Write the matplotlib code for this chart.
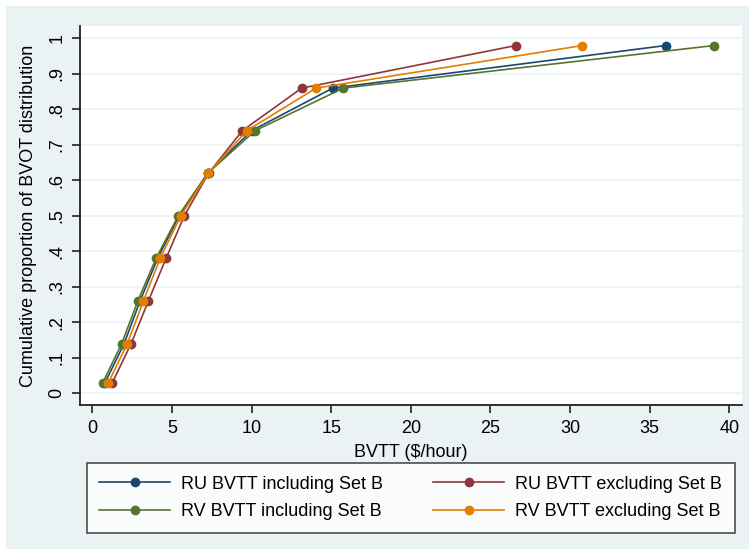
import matplotlib
matplotlib.use("Agg")
import matplotlib.pyplot as plt
from matplotlib.patches import Rectangle

plt.rcParams['font.family'] = ['Liberation Sans', 'DejaVu Sans']

# cumulative proportions (same for all series)
props = [0.03, 0.14, 0.26, 0.38, 0.50, 0.62, 0.74, 0.86, 0.98]

ru_incl = [0.80, 2.00, 3.00, 4.10, 5.45, 7.25, 10.00, 15.10, 36.00]
ru_excl = [1.26, 2.44, 3.52, 4.63, 5.78, 7.30, 9.42, 13.15, 26.60]
rv_incl = [0.66, 1.85, 2.86, 4.00, 5.40, 7.25, 10.22, 15.76, 39.05]
rv_excl = [1.01, 2.20, 3.21, 4.26, 5.56, 7.29, 9.70, 14.05, 30.77]

labels = ["RU BVTT including Set B", "RU BVTT excluding Set B",
          "RV BVTT including Set B", "RV BVTT excluding Set B"]
colors = ["#1A476F", "#90353B", "#55752F", "#E37E00"]

xticks = [0, 5, 10, 15, 20, 25, 30, 35, 40]
yticks = [0, 0.1, 0.2, 0.3, 0.4, 0.5, 0.6, 0.7, 0.8, 0.9, 1.0]
ytick_labels = ["0", ".1", ".2", ".3", ".4", ".5", ".6", ".7", ".8", ".9", "1"]

W, H = 749, 549
fig = plt.figure(figsize=(W / 100, H / 100), dpi=100)
fig.patch.set_facecolor("white")
fig.patches.append(Rectangle((6 / W, 0 / H), 1, (H - 6) / H, transform=fig.transFigure,
                             facecolor="#EAF2F3", edgecolor="none", zorder=-1))

ax = fig.add_axes([80 / W, (H - 405) / H, (742 - 80) / W, (405 - 26) / H])
ax.set_facecolor("white")

series = [ru_incl, ru_excl, rv_incl, rv_excl]
handles = []
for xs, lab, c in zip(series, labels, colors):
    h, = ax.plot(xs, props, color=c, lw=1.2, marker="o", ms=6, mec=c, mfc=c, label=lab)
    handles.append(h)

ax.set_xlim(-0.77, 40.79)
ax.set_ylim(-0.033, 1.035)
ax.set_xticks(xticks)
ax.set_yticks(yticks)
ax.set_yticklabels(ytick_labels, rotation=90, va="center")
ax.grid(axis="y", color="#EAF2F3", lw=1.2)
ax.set_axisbelow(True)

for s in ["top", "right"]:
    ax.spines[s].set_visible(False)
for s in ["left", "bottom"]:
    ax.spines[s].set_color("#222222")
    ax.spines[s].set_linewidth(1.3)

ax.tick_params(axis="both", length=5.5, width=1.2, color="#222222", labelsize=13, pad=5)
ax.set_xlabel("BVTT (\\$/hour)", fontsize=13, labelpad=5)
ax.set_ylabel("Cumulative proportion of BVOT distribution", fontsize=13, labelpad=8)

order = [0, 2, 1, 3]
leg = fig.legend([handles[i] for i in order], [labels[i] for i in order], ncol=2,
                 loc="center left", mode="expand",
                 bbox_to_anchor=(86.7 / W, (H - 498) / H, (735 - 86.7) / W, 0),
                 borderaxespad=0, fontsize=13, frameon=True, fancybox=False, edgecolor="#222222",
                 handlelength=3.9, handletextpad=0.65, borderpad=0.7, labelspacing=0.6,
                 columnspacing=2.4)
leg.get_frame().set_linewidth(1.2)

fig.savefig("out.png", dpi=100, facecolor=fig.get_facecolor())
